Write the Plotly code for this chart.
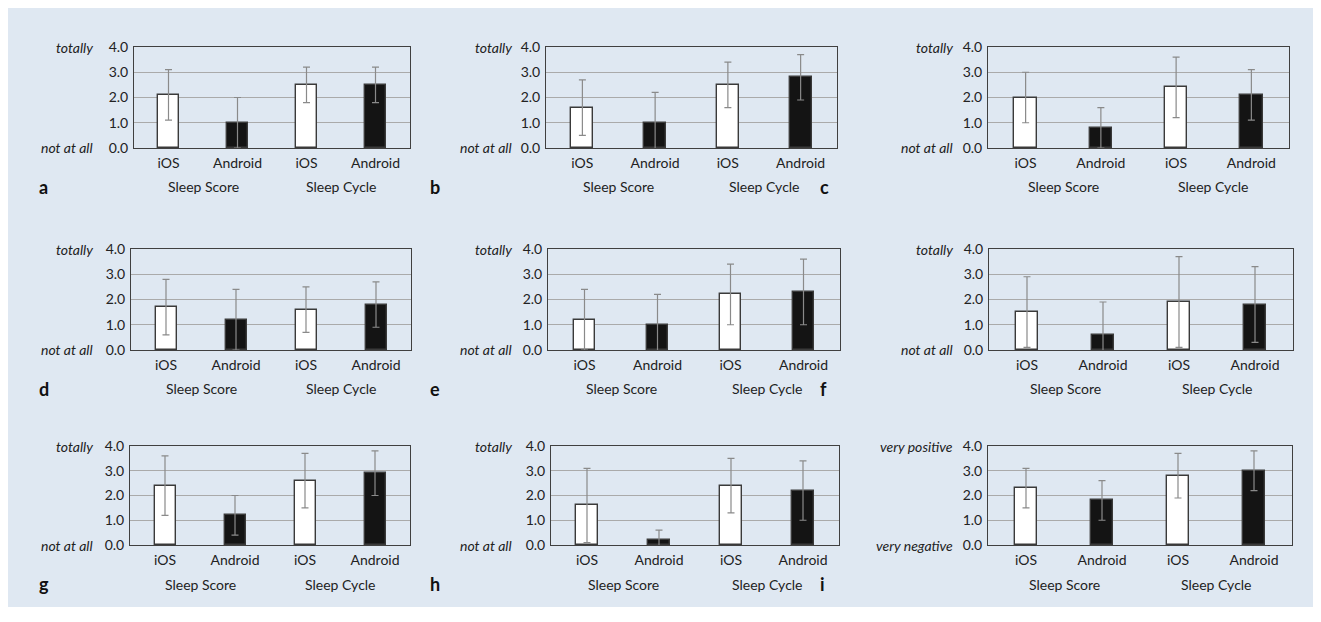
import plotly.graph_objects as go

# ---------------- data ----------------
platforms = ["iOS", "Android", "iOS", "Android"]
apps = ["Sleep Score", "Sleep Cycle"]
panel_letters = ["a", "b", "c", "d", "e", "f", "g", "h", "i"]
y_ticks = [0.0, 1.0, 2.0, 3.0, 4.0]
top_labels = ["totally"] * 8 + ["very positive"]
bottom_labels = ["not at all"] * 8 + ["very negative"]

mean_a = [2.1, 1.0, 2.5, 2.5]
sd_a = [1.0, 1.0, 0.7, 0.7]
mean_b = [1.6, 1.0, 2.5, 2.8]
sd_b = [1.1, 1.2, 0.9, 0.9]
mean_c = [2.0, 0.8, 2.4, 2.1]
sd_c = [1.0, 0.8, 1.2, 1.0]
mean_d = [1.7, 1.2, 1.6, 1.8]
sd_d = [1.1, 1.2, 0.9, 0.9]
mean_e = [1.2, 1.0, 2.2, 2.3]
sd_e = [1.2, 1.2, 1.2, 1.3]
mean_f = [1.5, 0.6, 1.9, 1.8]
sd_f = [1.4, 1.3, 1.8, 1.5]
mean_g = [2.4, 1.2, 2.6, 2.9]
sd_g = [1.2, 0.8, 1.1, 0.9]
mean_h = [1.6, 0.2, 2.4, 2.2]
sd_h = [1.5, 0.4, 1.1, 1.2]
mean_i = [2.3, 1.8, 2.8, 3.0]
sd_i = [0.8, 0.8, 0.9, 0.8]

means = [mean_a, mean_b, mean_c, mean_d, mean_e, mean_f, mean_g, mean_h, mean_i]
sds = [sd_a, sd_b, sd_c, sd_d, sd_e, sd_f, sd_g, sd_h, sd_i]

# ---------------- layout geometry (pixels in the window) ----------------
W, H = 1321, 622
PAGE_OFF = 8  # default page margin around the figure div
x_px = [(134, 410), (546, 837), (988, 1289),
        (131, 411), (548, 840), (989, 1293),
        (130, 410), (551, 839), (988, 1292)]
y_px = [(47, 148)] * 3 + [(249, 350)] * 3 + [(446, 545)] * 3
side_label_right = [95, 514, 955] * 3
letter_left = [37, 428, 818] * 3


def px(v):
    return (v - PAGE_OFF) / W


def py(v):
    return 1 - (v - PAGE_OFF) / H


FONT = "Lato"
TXT = "#222222"
BG = "#dfe8f2"
fig = go.Figure()

for k in range(9):
    n = "" if k == 0 else str(k + 1)
    xa, ya = "x" + n, "y" + n
    m, s = means[k], sds[k]
    xs = list(range(len(platforms)))
    for idx_set, fill in (([0, 2], "#ffffff"), ([1, 3], "#141414")):
        fig.add_trace(go.Bar(
            x=[xs[i] for i in idx_set],
            y=[m[i] for i in idx_set],
            width=0.3,
            marker=dict(color=fill, line=dict(color="#3a3a3a", width=1.4)),
            error_y=dict(type="data", symmetric=True,
                         array=[s[i] for i in idx_set],
                         color="#8a8a8a", thickness=1.2, width=3.5),
            xaxis=xa, yaxis=ya, showlegend=False,
        ))
    L, R = x_px[k]
    T, B = y_px[k]
    fig.update_layout({
        "xaxis" + n: dict(
            domain=[px(L), px(R)], anchor=ya, range=[-0.5, 3.5],
            tickvals=xs, ticktext=platforms, ticks="", showgrid=False,
            showline=True, linecolor="#404040", linewidth=1, mirror=True,
            tickfont=dict(family=FONT, size=14, color=TXT), zeroline=False,
            ticklabelstandoff=2, automargin=False, fixedrange=True),
        "yaxis" + n: dict(
            domain=[py(B), py(T)], anchor=xa, range=[0, 4],
            tickvals=y_ticks, ticktext=[f"{v:.1f}" for v in y_ticks],
            ticks="", showgrid=True, gridcolor="#aaaaaa", gridwidth=1,
            showline=True, linecolor="#404040", linewidth=1, mirror=True,
            tickfont=dict(family=FONT, size=14, color=TXT), zeroline=False,
            ticklabelstandoff=2, automargin=False, fixedrange=True),
    })
    # italic scale labels
    for yv, txt in ((1, top_labels[k]), (0, bottom_labels[k])):
        fig.add_annotation(x=px(side_label_right[k]), xref="paper", xanchor="right",
                           y=yv, yref=ya + " domain", yanchor="middle",
                           text=f"<i>{txt}</i>", showarrow=False,
                           font=dict(family=FONT, size=14, color=TXT))
    # group labels
    for gi, app in enumerate(apps):
        fig.add_annotation(x=0.5 + 2 * gi, xref=xa, y=0, yref=ya + " domain",
                           yanchor="middle", yshift=-39, text=app, showarrow=False,
                           font=dict(family=FONT, size=14, color=TXT))
    # panel letter
    fig.add_annotation(x=px(letter_left[k]), xref="paper", xanchor="left",
                       y=0, yref=ya + " domain", yanchor="middle", yshift=-39,
                       text=f"<b>{panel_letters[k]}</b>", showarrow=False,
                       font=dict(family=FONT, size=18, color="#111111"))

fig.add_shape(type="rect", xref="paper", yref="paper",
              x0=0, x1=px(1313), y0=py(607), y1=1,
              fillcolor=BG, line=dict(width=0), layer="below")

fig.update_layout(
    width=W, height=H, margin=dict(l=0, r=0, t=0, b=0, autoexpand=False),
    paper_bgcolor="#ffffff", plot_bgcolor="rgba(0,0,0,0)",
    barmode="overlay", bargap=0,
    font=dict(family=FONT, size=14, color=TXT),
)

fig.write_html("out.html")
